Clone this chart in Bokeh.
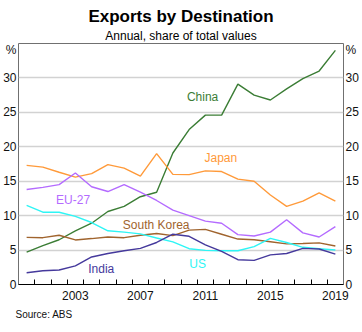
from bokeh.plotting import figure
from bokeh.models import FixedTicker, LinearAxis, Range1d, Title, ColumnDataSource
from bokeh.core.properties import value
from bokeh.embed import file_html
from bokeh.resources import INLINE

years = list(range(2000, 2020))
china = [4.7, 5.65, 6.5, 7.8, 8.9, 10.6, 11.35, 12.75, 13.4, 19.1, 22.5, 24.6, 24.6, 29.1, 27.5, 26.8, 28.4, 29.9, 31.0, 34.0]
japan = [17.3, 17.05, 16.3, 15.6, 16.1, 17.4, 16.9, 15.75, 19.0, 16.0, 15.95, 16.5, 16.4, 15.3, 15.0, 13.0, 11.35, 12.1, 13.3, 12.1]
eu27 = [13.8, 14.1, 14.5, 16.2, 14.2, 13.5, 14.5, 13.4, 12.2, 10.8, 10.0, 9.2, 8.9, 7.25, 7.05, 7.6, 9.4, 7.5, 6.9, 8.4]
south_korea = [6.85, 6.8, 7.15, 6.47, 6.67, 6.9, 6.8, 7.15, 7.4, 7.1, 7.9, 8.0, 7.3, 6.6, 6.5, 6.2, 5.9, 5.95, 6.05, 5.6]
us = [11.5, 10.5, 10.5, 9.9, 9.0, 7.8, 7.6, 7.35, 6.75, 6.2, 5.2, 4.95, 4.9, 4.9, 5.5, 6.7, 6.1, 5.4, 5.2, 5.0]
india = [1.7, 2.0, 2.1, 2.7, 4.0, 4.5, 4.9, 5.25, 6.1, 7.3, 7.0, 5.75, 4.8, 3.6, 3.5, 4.3, 4.5, 5.25, 5.15, 4.4]

series_names = ["China", "Japan", "EU-27", "South Korea", "US", "India"]
series_values = [china, japan, eu27, south_korea, us, india]
series_colors = ["#3b7d35", "#ff9a3a", "#b46bff", "#a0642e", "#2ef5f5", "#45399c"]
label_x = [2010.83, 2011.95, 2002.86, 2007.97, 2010.52, 2004.59]
label_y = [27.2, 18.3, 12.3, 8.64, 3.0, 2.29]

x_tick_labels = [2003, 2007, 2011, 2015, 2019]
year_bounds = [y + 0.5 for y in range(2000, 2019)]
y_ticks = [0, 5, 10, 15, 20, 25, 30]
pct_tick = 34

FONT = "Liberation Sans"

p = figure(width=362, height=332, output_backend="svg", toolbar_location=None,
           x_range=Range1d(1999.5, 2019.5), y_range=Range1d(0, 35),
           x_axis_location=None, y_axis_location=None,
           min_border_left=17, min_border_right=19, min_border_top=43, min_border_bottom=48)
p.background_fill_color = "white"
p.border_fill_color = "white"
p.outline_line_color = "#707070"
p.outline_line_width = 1

p.title.text = "Exports by Destination"
p.title.align = "center"
p.title.text_font = FONT
p.title.text_font_size = "17px"
p.title.text_font_style = "bold"
p.title.text_color = "#000000"
p.title.standoff = 0
p.title.offset = 0
p.add_layout(Title(text="Annual, share of total values", align="center", text_font=FONT,
                   text_font_size="12px", text_font_style="normal", text_color="#000000",
                   standoff=2), "above")

# grid
p.xgrid.visible = False
p.ygrid.ticker = FixedTicker(ticks=y_ticks[1:])
p.ygrid.grid_line_color = "#d2d2d2"
p.ygrid.grid_line_width = 1.5

def yaxis():
    ax = LinearAxis(ticker=FixedTicker(ticks=y_ticks + [pct_tick]))
    ax.major_label_overrides = {pct_tick: "%"}
    ax.axis_line_color = None
    ax.major_tick_line_color = None
    ax.minor_tick_line_color = None
    ax.major_tick_in = 0
    ax.major_tick_out = 0
    ax.minor_tick_in = 0
    ax.minor_tick_out = 0
    ax.axis_label_standoff = 0
    ax.major_label_text_font = FONT
    ax.major_label_text_font_size = "12px"
    ax.major_label_text_color = "#111111"
    ax.major_label_standoff = 2
    return ax

p.add_layout(yaxis(), "left")
p.add_layout(yaxis(), "right")

xa = LinearAxis(ticker=FixedTicker(ticks=x_tick_labels, minor_ticks=year_bounds))
xa.axis_line_color = "#000000"
xa.axis_line_width = 1
xa.major_tick_in = 0
xa.major_tick_out = 0
xa.minor_tick_in = 5
xa.minor_tick_out = 0
xa.minor_tick_line_color = "#000000"
xa.axis_label_standoff = 0
xa.major_label_text_font = FONT
xa.major_label_text_font_size = "12px"
xa.major_label_text_color = "#111111"
xa.major_label_standoff = 6
p.add_layout(xa, "below")

p.add_layout(Title(text="Source:   ABS", align="left", text_font=FONT, text_font_size="10px",
                   text_font_style="normal", text_color="#111111", standoff=8, offset=-3), "below")

for name, vals, col in zip(series_names, series_values, series_colors):
    p.line(years, vals, line_color=col, line_width=1.4)

src = ColumnDataSource(dict(x=label_x, y=label_y, t=series_names, c=series_colors))
p.text(x="x", y="y", text="t", text_color="c", source=src, text_align="center",
       text_baseline="middle", text_font=value(FONT), text_font_size="12px")

open("out.html", "w").write(file_html(p, INLINE))
